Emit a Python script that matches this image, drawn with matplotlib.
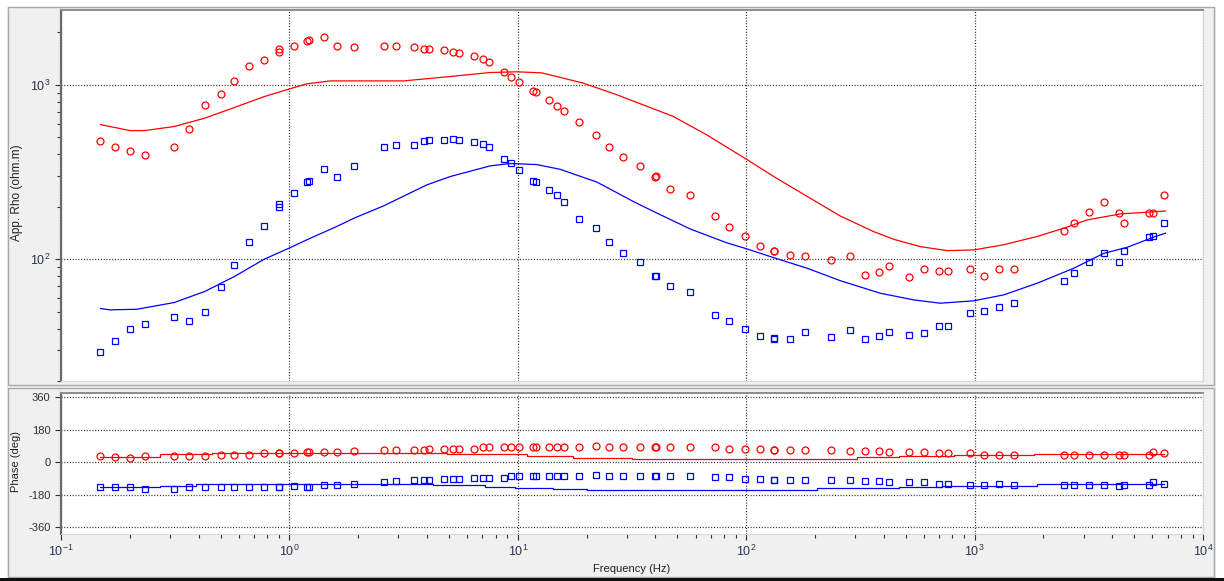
import matplotlib
matplotlib.use("Agg")
import matplotlib.pyplot as plt
from matplotlib.patches import Rectangle
from matplotlib.ticker import LogLocator, NullFormatter, FixedLocator, LogFormatterSciNotation

plt.rcParams["font.family"] = ["Liberation Sans", "DejaVu Sans"]
plt.rcParams["mathtext.fontset"] = "custom"
plt.rcParams["mathtext.rm"] = "Liberation Sans"
plt.rcParams["mathtext.it"] = "Liberation Sans:italic"
plt.rcParams["mathtext.bf"] = "Liberation Sans:bold"
plt.rcParams["axes.unicode_minus"] = False

# ---- observed sounding data (Hz, ohm.m, deg) ----
freq = [0.148, 0.172, 0.200, 0.233, 0.313, 0.365, 0.425, 0.500, 0.573, 0.668, 0.777,
        0.900, 0.905, 1.05, 1.19, 1.22, 1.42, 1.61, 1.92, 2.60, 2.92, 3.52, 3.89, 4.09,
        4.76, 5.18, 5.53, 6.44, 7.03, 7.50, 8.71, 9.38, 10.1, 11.7, 12.0, 13.7, 14.9,
        15.9, 18.5, 22.0, 25.0, 29.0, 34.3, 39.8, 40.1, 46.3, 56.5, 72.9, 84.5, 98.4,
        114.5, 132.0, 133.0, 155, 180, 235, 284, 330, 383, 424, 518, 603, 697, 767,
        952, 1104, 1285, 1493, 2472, 2729, 3184, 3690, 4295, 4519, 5808, 6026, 6761]

rho_xy = [478, 439, 416, 396, 439, 562, 767, 891, 1054, 1279, 1390,
          1603, 1545, 1667, 1786, 1811, 1879, 1667, 1644, 1667, 1667, 1644, 1614, 1614,
          1589, 1539, 1521, 1466, 1416, 1349, 1187, 1107, 1036, 924, 908, 820, 758,
          706, 611, 516, 439, 385, 343, 298, 302, 254, 235, 177, 152, 136,
          119, 112, 111, 106, 104.5, 99.5, 104.5, 81.3, 84.1, 91.5, 79.1, 88.3, 85.7, 85.7,
          88.3, 80.2, 88.3, 88.3, 145, 161, 186, 212, 184, 161, 184, 184, 235]

rho_yx = [29.2, 34.0, 40.0, 42.2, 46.5, 44.3, 49.7, 69.0, 92.7, 125, 155,
          206, 199, 239, 277, 280, 331, 295, 343, 439, 453, 453, 478, 483,
          483, 492, 483, 469, 460, 439, 378, 354, 325, 281, 277, 250, 235,
          212, 169, 150, 125, 108, 96.2, 80.2, 80.2, 70.3, 64.7, 48.1, 44.1, 40.0,
          36.3, 35.4, 35.0, 35.0, 38.1, 35.7, 39.4, 35.0, 36.3, 38.1, 36.9, 37.6, 41.4, 41.4,
          49.0, 50.5, 53.0, 55.9, 75.1, 83.2, 96.2, 108, 96.2, 112, 134, 136, 161]

phase_xy = [35, 28, 26, 35, 33, 33, 33, 40, 40, 40, 50,
            50, 50, 50, 59, 59, 59, 59, 64, 68, 68, 68, 68, 74,
            74, 74, 74, 74, 83, 83, 83, 83, 83, 83, 83, 83, 83,
            83, 83, 89, 83, 83, 83, 83, 83, 83, 83, 83, 76, 76,
            76, 68, 68, 68, 68, 68, 63, 63, 63, 57, 57, 57, 50, 50,
            50, 42, 42, 42, 42, 42, 42, 42, 42, 42, 42, 57, 50]

phase_yx = [-138, -138, -138, -146, -146, -138, -138, -138, -138, -138, -138,
            -138, -138, -133, -135, -135, -126, -126, -119, -109, -102, -98, -98, -98,
            -91, -91, -91, -85, -85, -85, -85, -76, -76, -76, -76, -76, -76,
            -76, -76, -69, -76, -76, -76, -76, -76, -76, -76, -83, -83, -91,
            -91, -96, -96, -96, -96, -96, -96, -104, -104, -109, -111, -111, -119, -119,
            -124, -124, -119, -124, -124, -124, -124, -124, -131, -124, -124, -111, -119]

# ---- model responses ----
model_freq_xy = [0.149, 0.200, 0.233, 0.313, 0.425, 0.573, 0.776, 1.00, 1.19, 1.51, 2.04,
                 3.16, 5.06, 7.57, 9.91, 12.75, 19.4, 27.2, 38.0, 48.1, 67.3, 99.8, 132,
                 185, 258, 361, 443, 579, 759, 991, 1341, 1879, 2472, 3112, 4355, 6090, 6855]
model_rho_xy = [592, 547, 547, 577, 644, 741, 857, 948, 1014, 1054, 1054,
                1054, 1117, 1178, 1189, 1172, 1023, 877, 741, 658, 516, 376, 298,
                229, 177, 144, 130, 118, 112, 113, 121, 135, 151, 168, 182, 187, 189]

model_freq_yx = [0.149, 0.164, 0.215, 0.313, 0.425, 0.573, 0.776, 1.00, 1.19, 1.61, 1.94,
                 2.58, 4.00, 5.06, 7.57, 9.27, 12.1, 15.3, 22.2, 32.1, 40.6, 56.9, 82.4,
                 99.8, 132, 185, 258, 386, 541, 708, 991, 1341, 1879, 2716, 3678, 4656,
                 6090, 6855]
model_rho_yx = [52.1, 51.2, 51.6, 56.4, 65.2, 79.4, 100, 116, 129, 154, 173,
                202, 267, 298, 343, 354, 349, 328, 277, 214, 184, 149, 124,
                115, 102, 88.7, 75.3, 63.8, 58.4, 55.9, 57.7, 62.4, 72.8, 88.7, 108, 117,
                134, 141]

model_phase_freq_xy = [0.148, 0.27, 0.46, 4.9, 11.0, 17.5, 31.6, 305, 465, 810, 1815, 6730]
model_phase_xy = [28, 45, 54, 46, 35, 26, 19, 28, 37, 42, 45, 45]

model_phase_freq_yx = [0.148, 0.27, 0.39, 4.27, 7.19, 9.74, 14.3, 20.1, 204, 465, 720, 1878, 6730]
model_phase_yx = [-138, -131, -122, -127, -135, -140, -146, -152, -144, -137, -131, -120, -120]

phase_ticks = [-360, -180, 0, 180, 360]

RED = "#ff0000"
BLUE = "#0000ff"
W, H = 1224, 581

fig = plt.figure(figsize=(W / 100, H / 100), dpi=100, facecolor="white")


def px_box(x0, y0, x1, y1):
    return [x0 / W, 1 - y1 / H, (x1 - x0) / W, (y1 - y0) / H]


def px_rect(x0, y0, x1, y1, **kw):
    r = Rectangle((x0 / W, 1 - y1 / H), (x1 - x0) / W, (y1 - y0) / H,
                  transform=fig.transFigure, **kw)
    fig.patches.append(r)


# window background and panel frames
px_rect(7, 7, 1216, 578, facecolor="#f0f0f0", edgecolor="none", zorder=-20)
px_rect(8, 7, 1214, 385, facecolor="none", edgecolor="#a8a8a8", lw=1.0, zorder=-19)
px_rect(8, 388, 1214, 577, facecolor="none", edgecolor="#a8a8a8", lw=1.0, zorder=-19)
px_rect(0, 578, W, H, facecolor="#101010", edgecolor="none", zorder=-18)

ax_rho = fig.add_axes(px_box(61, 10, 1203, 381))
ax_ph = fig.add_axes(px_box(61, 393, 1203, 534))

dotted = (0, (0.8, 1.45))

for ax in (ax_rho, ax_ph):
    ax.set_facecolor("white")
    ax.set_xscale("log")
    ax.set_xlim(0.1, 1e4)
    ax.xaxis.set_major_locator(LogLocator(base=10, numticks=10))
    ax.xaxis.set_minor_locator(LogLocator(base=10, subs=range(2, 10), numticks=100))
    ax.grid(True, which="major", linestyle=dotted, color="#202020", linewidth=0.9)
    ax.spines["left"].set_color("#6a6a6a")
    ax.spines["left"].set_linewidth(1.6)
    ax.spines["top"].set_color("#8c8c8c")
    ax.spines["top"].set_linewidth(1.4)
    ax.spines["right"].set_color("#d8d8d8")
    ax.spines["bottom"].set_color("#d8d8d8")
    ax.tick_params(axis="both", which="both", colors="#303030", labelsize=8,
                   direction="out", width=0.8)
    ax.tick_params(axis="both", which="major", length=4)
    ax.tick_params(axis="both", which="minor", length=3)

# apparent resistivity panel
ax_rho.set_yscale("log")
ax_rho.set_ylim(20, 2690)
ax_rho.yaxis.set_major_locator(LogLocator(base=10, numticks=10))
ax_rho.yaxis.set_minor_locator(LogLocator(base=10, subs=range(2, 10), numticks=100))
ax_rho.yaxis.set_minor_formatter(NullFormatter())
ax_rho.tick_params(axis="x", which="both", bottom=False, labelbottom=False)
ax_rho.tick_params(axis="y", labelcolor="#2a3550", labelsize=9)

ax_rho.plot(model_freq_xy, model_rho_xy, color=RED, lw=0.9, zorder=3)
ax_rho.plot(model_freq_yx, model_rho_yx, color=BLUE, lw=0.9, zorder=3)
ax_rho.plot(freq, rho_xy, linestyle="none", marker="o", mfc="none", mec=RED,
            ms=5, mew=0.9, zorder=4)
ax_rho.plot(freq, rho_yx, linestyle="none", marker="s", mfc="none", mec=BLUE,
            ms=4.4, mew=0.9, zorder=4)

# phase panel
ax_ph.set_ylim(-397, 384)
ax_ph.yaxis.set_major_locator(FixedLocator(phase_ticks))
ax_ph.xaxis.set_major_formatter(LogFormatterSciNotation())
ax_ph.xaxis.set_minor_formatter(NullFormatter())
ax_ph.tick_params(axis="x", labelcolor="#2a3550", labelsize=9, pad=3)

ax_ph.step(model_phase_freq_xy, model_phase_xy, where="post", color=RED, lw=0.9, zorder=3)
ax_ph.step(model_phase_freq_yx, model_phase_yx, where="post", color=BLUE, lw=0.9, zorder=3)
ax_ph.plot(freq, phase_xy, linestyle="none", marker="o", mfc="none", mec=RED,
           ms=5, mew=0.9, zorder=4)
ax_ph.plot(freq, phase_yx, linestyle="none", marker="s", mfc="none", mec=BLUE,
           ms=4.4, mew=0.9, zorder=4)

# axis titles
fig.text(17 / W, 1 - 193 / H, "App. Rho (ohm.m)", rotation=90, ha="center",
         va="center", fontsize=8.5, color="#202020")
fig.text(16 / W, 1 - 461 / H, "Phase (deg)", rotation=90, ha="center",
         va="center", fontsize=8, color="#202020")
fig.text(632 / W, 1 - 569 / H, "Frequency (Hz)", ha="center", va="center",
         fontsize=8, color="#202020")

fig.savefig("out.png", dpi=100, facecolor=fig.get_facecolor())
